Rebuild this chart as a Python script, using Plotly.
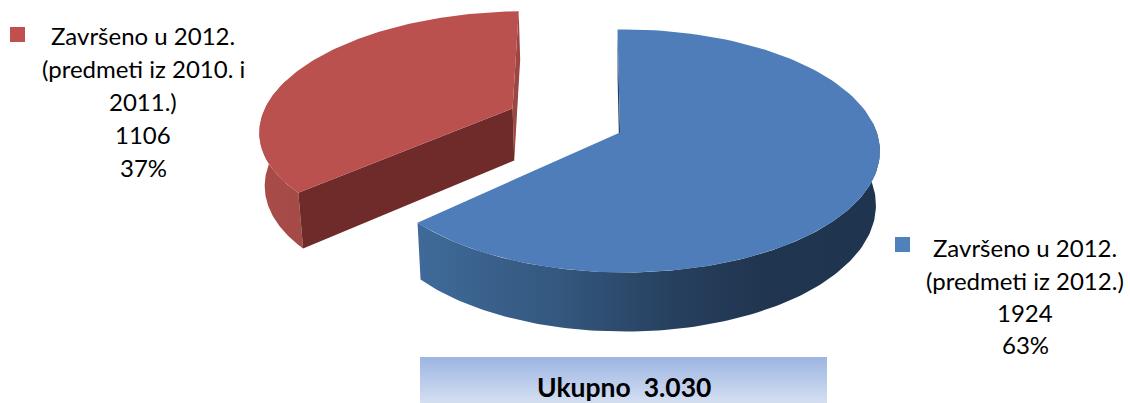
import numpy as np
import plotly.graph_objects as go

# ---- data ----
categories = ["Završeno u 2012. (predmeti iz 2012.)", "Završeno u 2012. (predmeti iz 2010. i 2011.)"]
values = [1924, 1106]
percent_labels = ["63%", "37%"]
total_label = "Ukupno  3.030"
blue_lines = ["Završeno u 2012.", "(predmeti iz 2012.)", "1924", "63%"]
red_lines = ["Završeno u 2012.", "(predmeti iz 2010. i", "2011.)", "1106", "37%"]

# ---- 3D pie projection (pixel-space axes) ----
CX, CY, RX, RY, K = 620.0, 132.5, 253.0, 118.7, 0.152
U_BLUE, U_RED = 0.015, -0.01
START = -1.5
PULL = 0.475
PULL_DV = 0.025
SC_X, SC_Y, OFF_Y = 0.985, 1.043, 47.4


def project(u, v):
    p = 1 + K * v
    return CX + RX * u / p, CY - RY * v / p


def bottom(x, y):
    return CX + (x - CX) * SC_X, SC_Y * y + OFF_Y


def rim(a0, a1, du, dv, u0, n=120):
    t = np.radians(np.linspace(a0, a1, n))
    return project(np.sin(t) + du + u0, np.cos(t) + dv)


angles = 360 * np.array(values) / sum(values)
b0, b1 = START, START + angles[0]
r0, r1 = b1, b1 + angles[1]
mid = np.radians((r0 + r1) / 2)
du, dv = PULL * np.sin(mid), PULL * np.cos(mid) + PULL_DV

fig = go.Figure()


def poly(xs, ys, color=None, gradient=None):
    kw = dict(fillgradient=gradient) if gradient else dict(fillcolor=color)
    fig.add_trace(go.Scatter(x=list(xs), y=list(ys), mode="lines", fill="toself",
                             line=dict(width=0), hoverinfo="skip", showlegend=False, **kw))


def wall(angle, du_, dv_, u0, color):
    ax, ay = project(du_, dv_)
    t = np.radians(angle)
    rx, ry = project(np.sin(t) + du_ + u0, np.cos(t) + dv_)
    pts = [(ax, ay), (rx, ry), bottom(rx, ry), bottom(ax, ay)]
    poly([p[0] for p in pts] + [ax], [p[1] for p in pts] + [ay], color)


def side(a0, a1, du_, dv_, u0, **kw):
    x, y = rim(a0, a1, du_, dv_, u0)
    bx, by = bottom(x, y)
    poly(np.r_[x, bx[::-1], x[0]], np.r_[y, by[::-1], y[0]], **kw)


def top(a0, a1, du_, dv_, u0, color):
    x, y = rim(a0, a1, du_, dv_, u0)
    ax, ay = project(du_, dv_)
    poly(np.r_[ax, x, ax], np.r_[ay, y, ay], color)


# red slice
wall(r1, du, dv, U_RED, "#9c4644")
side(r0, 285, du, dv, U_RED, gradient=dict(type="horizontal", colorscale=[[0, "#a94c49"], [1, "#a54a47"]]))
wall(r0, du, dv, U_RED, "#6f2b29")
top(r0, r1, du, dv, U_RED, "#bb514e")

# blue slice
wall(b0, 0, 0, U_BLUE, "#1d3b5e")
side(85, b1, 0, 0, U_BLUE, gradient=dict(type="horizontal", colorscale=[
    [0, "#3f6a99"], [0.3, "#34587f"], [0.55, "#27405f"], [0.75, "#20354f"], [1, "#1f344e"]]))
top(b0, b1, 0, 0, U_BLUE, "#4e7db9")

# total box
poly([420, 827, 827, 420, 420], [357, 357, 403, 403, 357],
     gradient=dict(type="vertical", colorscale=[[0, "#d4dff2"], [1, "#9cb5e2"]]))

# legend squares
poly([10, 25, 25, 10, 10], [27, 27, 42, 42, 27], "#c0504d")
poly([895, 910, 910, 895, 895], [237, 237, 252, 252, 237], "#4f81bd")

font = dict(family="Lato", size=24, color="#000000")
ann = []
for line, y in zip(red_lines, [35, 68, 101, 134, 167]):
    ann.append(dict(x=143, y=y, text=line, showarrow=False, font=font, xref="x", yref="y"))
for line, y in zip(blue_lines, [247, 280, 312, 344]):
    ann.append(dict(x=1025, y=y, text=line, showarrow=False, font=font, xref="x", yref="y"))
ann.append(dict(x=624, y=387, text="<b>" + total_label.replace("  ", "&nbsp; ") + "</b>", showarrow=False,
                font=dict(family="Lato", size=26.5, color="#000000"), xref="x", yref="y"))

fig.update_layout(
    width=1130, height=403, margin=dict(l=0, r=0, t=0, b=0), autosize=False,
    paper_bgcolor="white", plot_bgcolor="white", showlegend=False,
    xaxis=dict(range=[0, 1130], visible=False, fixedrange=True),
    yaxis=dict(range=[403, 0], visible=False, fixedrange=True),
    annotations=ann,
)
fig.write_html("out.html", config={"displayModeBar": False},
               post_script="document.body.style.margin='0';document.documentElement.style.overflow='hidden';")
